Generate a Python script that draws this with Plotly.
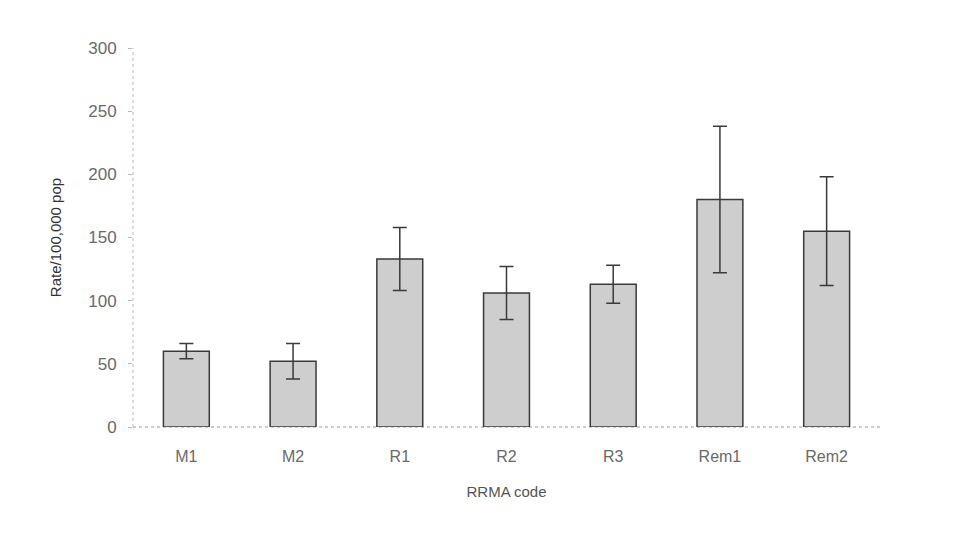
import plotly.graph_objects as go

categories = ["M1", "M2", "R1", "R2", "R3", "Rem1", "Rem2"]
rates = [60, 52, 133, 106, 113, 180, 155]
errors = [6, 14, 25, 21, 15, 58, 43]
y_ticks = [0, 50, 100, 150, 200, 250, 300]

fig = go.Figure()
fig.add_trace(go.Bar(
    x=categories, y=rates,
    marker=dict(color="#cecece", line=dict(color="#3a3a3a", width=1.5)),
    error_y=dict(type="data", array=errors, visible=True,
                 color="#3a3a3a", thickness=1.5, width=7),
    width=0.43,
))

font_family = "Liberation Sans, Arial, sans-serif"
fig.update_layout(
    width=973, height=542,
    margin=dict(l=133, r=93, t=48, b=115),
    paper_bgcolor="white", plot_bgcolor="white",
    showlegend=False,
    font=dict(family=font_family, size=15, color="#666666"),
    xaxis=dict(
        showline=False, showgrid=False, zeroline=False,
        ticks="", ticklabelstandoff=18,
        tickfont=dict(size=16, color="#6a6a6a"),
        title=dict(text="RRMA code", font=dict(size=15, color="#555555"), standoff=22),
    ),
    yaxis=dict(
        range=[0, 300], tickvals=y_ticks,
        showline=False, showgrid=False, zeroline=False,
        ticks="outside", ticklen=4, tickcolor="#bbbbbb",
        ticklabelstandoff=8,
        tickfont=dict(size=17, color="#6a6a6a"),
        title=dict(text="Rate/100,000 pop", font=dict(size=15, color="#333333"), standoff=22),
    ),
    shapes=[
        dict(type="line", xref="paper", yref="paper", x0=0, x1=1, y0=0, y1=0,
             line=dict(color="#999999", width=1, dash="dot"), layer="below"),
        dict(type="line", xref="paper", yref="paper", x0=0, x1=0, y0=0, y1=1,
             line=dict(color="#bbbbbb", width=1, dash="dot"), layer="below"),
    ],
)

fig.write_html("out.html")
